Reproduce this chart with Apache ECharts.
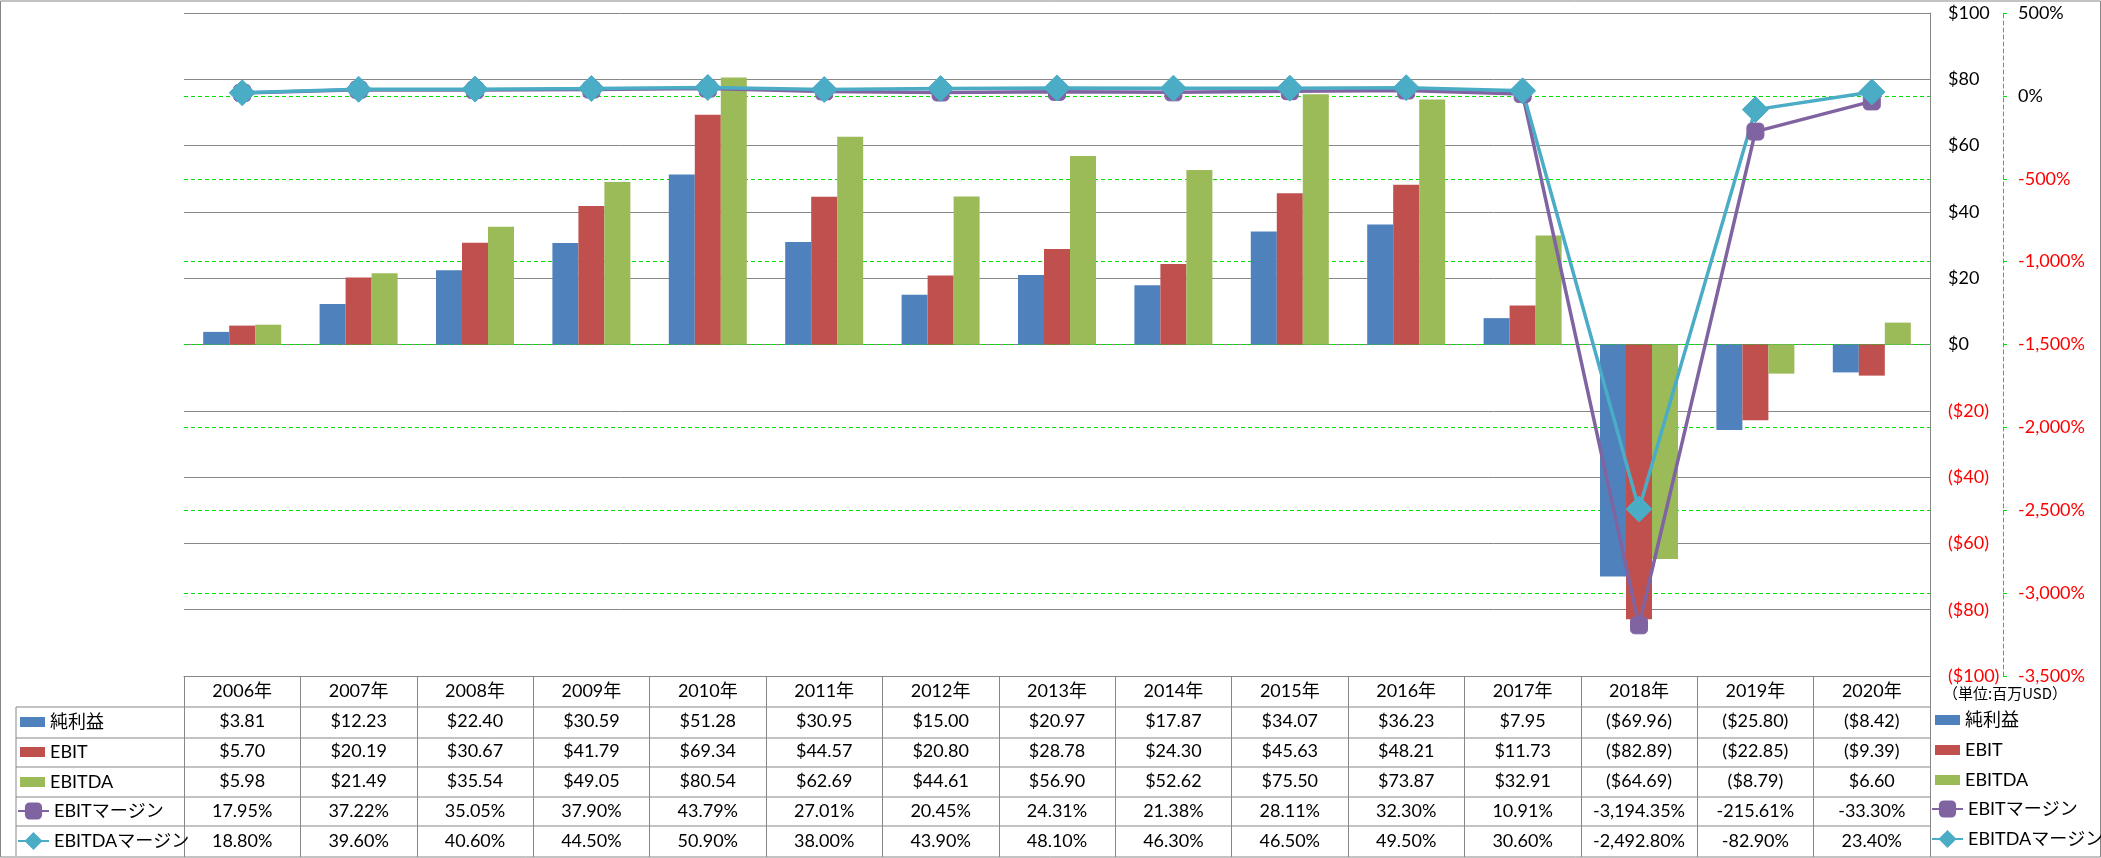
<!DOCTYPE html>
<html>
<head>
<meta charset="utf-8">
<script src="https://cdn.jsdelivr.net/npm/echarts@6/dist/echarts.min.js"></script>
<style>
html,body{margin:0;padding:0;background:#fff;}
#chart{width:2101px;height:858px;}
</style>
</head>
<body>
<div id="chart"></div>
<script>
const categories = ['2006年','2007年','2008年','2009年','2010年','2011年','2012年','2013年','2014年','2015年','2016年','2017年','2018年','2019年','2020年'];
const netIncome = [3.81,12.23,22.40,30.59,51.28,30.95,15.00,20.97,17.87,34.07,36.23,7.95,-69.96,-25.80,-8.42];
const ebit = [5.70,20.19,30.67,41.79,69.34,44.57,20.80,28.78,24.30,45.63,48.21,11.73,-82.89,-22.85,-9.39];
const ebitda = [5.98,21.49,35.54,49.05,80.54,62.69,44.61,56.90,52.62,75.50,73.87,32.91,-64.69,-8.79,6.60];
const ebitMargin = [17.95,37.22,35.05,37.90,43.79,27.01,20.45,24.31,21.38,28.11,32.30,10.91,-3194.35,-215.61,-33.30];
const ebitdaMargin = [18.80,39.60,40.60,44.50,50.90,38.00,43.90,48.10,46.30,46.50,49.50,30.60,-2492.80,-82.90,23.40];
const seriesNames = ['純利益','EBIT','EBITDA','EBITマージン','EBITDAマージン'];
const unitLabel = '（単位:百万USD）';

const FONT = "Lato, 'Noto Sans CJK JP', sans-serif";
const GRID_C = '#878787';
const GREEN = '#00E000';

function money(v){ const s = '$' + Math.abs(v).toFixed(2); return v < 0 ? '(' + s + ')' : s; }
function pct(v){ return v.toLocaleString('en-US',{minimumFractionDigits:2,maximumFractionDigits:2}) + '%'; }

const chart = echarts.init(document.getElementById('chart'));
const tableLines = [707, 738, 767, 797, 826];
const graphic = [
  {type:'rect', shape:{x:0.5,y:1,width:2100,height:856}, style:{fill:'none',stroke:GRID_C,lineWidth:1}, silent:true},
  {type:'line', shape:{x1:16,y1:707,x2:16,y2:856}, style:{stroke:GRID_C,lineWidth:1}, silent:true},
  {type:'text', left:1943, top:686, style:{text:unitLabel, font:"15px 'Noto Sans CJK JP'", fill:'#000'}, silent:true}
];
tableLines.forEach(y => graphic.push({type:'line', shape:{x1:16,y1:y,x2:1930,y2:y}, style:{stroke:GRID_C,lineWidth:1}, silent:true}));

const textStyle = {fontFamily:FONT, fontSize:18, color:'#000', lineHeight:20};
const barLegend = {orient:'vertical', padding:0, itemGap:10, itemWidth:25, itemHeight:10, selectedMode:false,
  textStyle:textStyle, data:seriesNames.slice(0,3).map(n => ({name:n, icon:'rect'}))};
const lineLegend = {orient:'vertical', padding:0, itemGap:10, itemWidth:31, itemHeight:19, selectedMode:false,
  textStyle:textStyle, data:seriesNames.slice(3)};

chart.setOption({
  animation:false,
  textStyle:{fontFamily:FONT},
  grid:{left:184, right:171, top:13, bottom:182, containLabel:false},
  legend:[
    Object.assign({left:20, top:712}, barLegend),
    Object.assign({left:17, top:801}, lineLegend),
    Object.assign({left:1935, top:710}, barLegend),
    Object.assign({left:1931, top:799}, lineLegend)
  ],
  graphic: graphic,
  xAxis:{
    type:'category', data:categories, position:'bottom',
    axisLine:{show:true, onZero:false, lineStyle:{color:GRID_C}},
    axisTick:{show:true, interval:0, length:181, lineStyle:{color:GRID_C}},
    axisLabel:{interval:0, margin:0, fontSize:18, lineHeight:30, color:'#000', fontFamily:FONT,
      formatter:(v, i) => [v, money(netIncome[i]), money(ebit[i]), money(ebitda[i]), pct(ebitMargin[i]), pct(ebitdaMargin[i])].join('\n')},
    splitLine:{show:false}
  },
  yAxis:[
    {type:'value', position:'right', min:-100, max:100, interval:20,
      axisLine:{show:true, lineStyle:{color:GRID_C}}, axisTick:{show:false},
      splitLine:{show:true, lineStyle:{color:GRID_C, width:1}},
      axisLabel:{margin:18, fontSize:18, fontFamily:FONT,
        color:(v) => (Number(v) < 0 ? '#FF0000' : '#000'),
        formatter:(v) => v < 0 ? '($' + Math.abs(v) + ')' : '$' + v}},
    {type:'value', position:'right', offset:73, min:-3500, max:500, interval:500,
      axisLine:{show:true, lineStyle:{color:GREEN, type:[4,3]}},
      axisTick:{show:true, length:4, lineStyle:{color:GREEN}},
      splitLine:{show:true, showMinLine:false, showMaxLine:false, lineStyle:{color:GREEN, type:[4,3], width:1}},
      axisLabel:{margin:15, fontSize:18, fontFamily:FONT,
        color:(v) => (Number(v) < 0 ? '#FF0000' : '#000'),
        formatter:(v) => v.toLocaleString('en-US') + '%'}}
  ],
  series:[
    {name:seriesNames[0], type:'bar', data:netIncome, barWidth:26, barGap:'0%', itemStyle:{color:'#4F81BD'}},
    {name:seriesNames[1], type:'bar', data:ebit, barWidth:26, barGap:'0%', itemStyle:{color:'#C0504D'}},
    {name:seriesNames[2], type:'bar', data:ebitda, barWidth:26, barGap:'0%', itemStyle:{color:'#9BBB59'}},
    {name:seriesNames[3], type:'line', yAxisIndex:1, data:ebitMargin, symbol:'roundRect', symbolSize:17,
      lineStyle:{color:'#8064A2', width:3.5}, itemStyle:{color:'#8064A2', borderColor:'#8064A2', borderWidth:1}},
    {name:seriesNames[4], type:'line', yAxisIndex:1, data:ebitdaMargin, symbol:'diamond', symbolSize:26,
      lineStyle:{color:'#4BACC6', width:3.5}, itemStyle:{color:'#4BACC6', borderColor:'#4BACC6', borderWidth:1}}
  ]
});
</script>
</body>
</html>
